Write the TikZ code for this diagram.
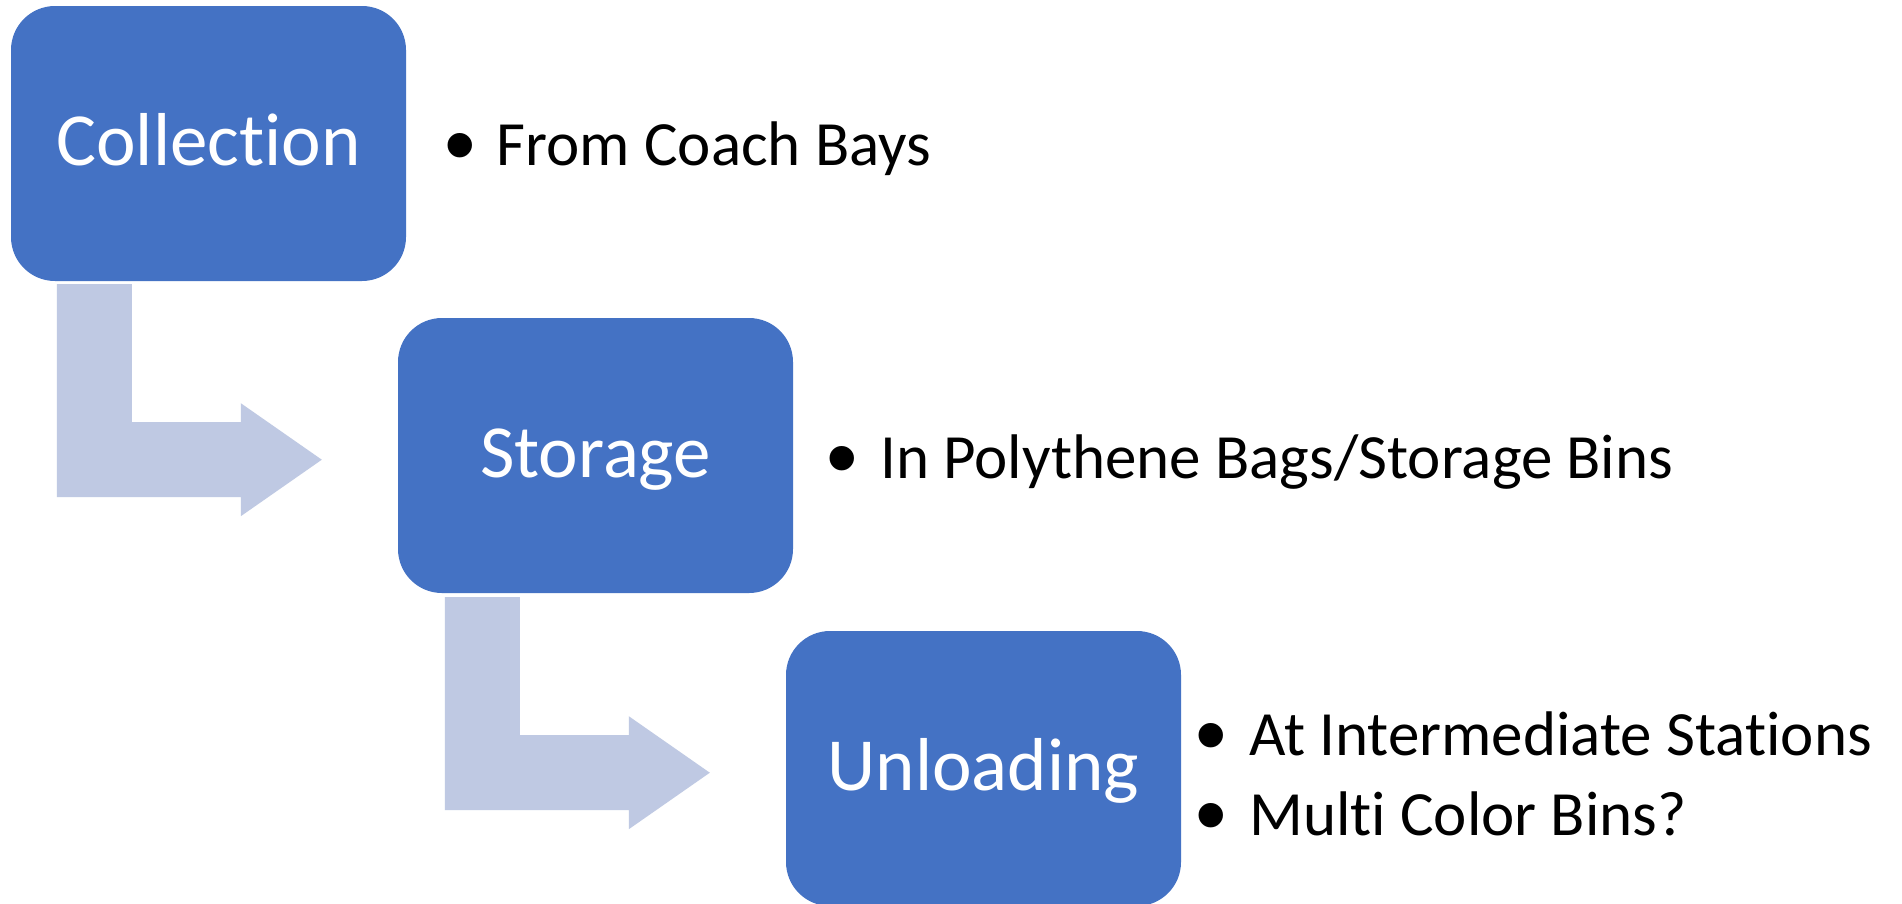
\documentclass[tikz,border=0pt]{standalone}
\usepackage{fontspec}
\setmainfont{Carlito}[Ligatures={NoCommon}]
\newfontfamily\bulletfont{Liberation Sans}
\definecolor{boxblue}{RGB}{68,114,196}
\definecolor{arrowblue}{RGB}{191,201,227}
\tikzset{
  stepbox/.style={fill=boxblue, draw=none, rounded corners=44pt,
    minimum width=395pt, minimum height=275pt, inner sep=0pt,
    text=white, text height=44pt, text depth=0pt,
    font=\fontsize{75pt}{90pt}\selectfont},
  bentarrow/.style={fill=arrowblue, draw=none},
  itemtext/.style={anchor=base west, inner sep=0pt, text=black,
    font=\fontsize{63pt}{76pt}\selectfont},
  itembullet/.style={anchor=base, inner sep=0pt, text=black,
    yshift=-10pt, font=\bulletfont\fontsize{90pt}{100pt}\selectfont}
}
\begin{document}
\begin{tikzpicture}[x=1pt,y=-1pt]
\clip (0,0) rectangle (1902,903);
\fill[white] (0,0) rectangle (1902,903);

\node[stepbox] (col) at (208.5,143.5) {Collection};
\node[stepbox] (sto) at (595.5,455.5) {Storage};
\node[stepbox] (unl) at (983.5,768.5) {Unloading};

\fill[bentarrow] ([shift={(46,3)}]col.south west) -- ++(75,0) -- ++(0,138)
  -- ++(109,0) -- ++(0,-19) -- ++(81,56.5) -- ++(-81,56.5) -- ++(0,-19)
  -- ++(-184,0) -- cycle;
\fill[bentarrow] ([shift={(47,4)}]sto.south west) -- ++(75,0) -- ++(0,138)
  -- ++(109,0) -- ++(0,-19) -- ++(81,56.5) -- ++(-81,56.5) -- ++(0,-19)
  -- ++(-184,0) -- cycle;

\node[itembullet] (b1) at (460,165) {•};
\node[itemtext] (t1) at (496.5,165) {From Coach Bays};
\node[itembullet] (b2) at (842,478) {•};
\node[itemtext] (t2) at (880,478) {In Polythene Bags/Storage Bins};
\node[itembullet] (b3) at (1211,755) {•};
\node[itemtext] (t3) at (1249,755) {At Intermediate Stations};
\node[itembullet] (b4) at (1211,835) {•};
\node[itemtext] (t4) at (1249,835) {Multi Color Bins?};
\end{tikzpicture}
\end{document}
